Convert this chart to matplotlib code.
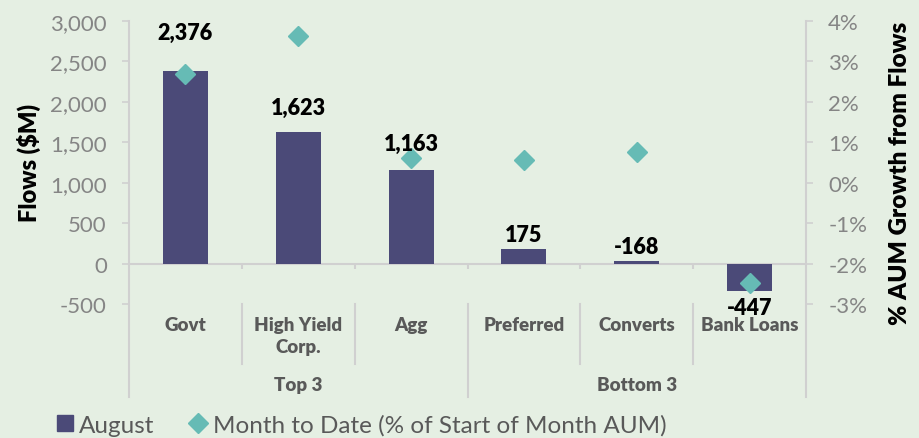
import numpy as np
import matplotlib.pyplot as plt
from matplotlib.lines import Line2D
from matplotlib.ticker import FuncFormatter

IMAGE_WIDTH = 919
IMAGE_HEIGHT = 439

categories = ["Govt", "High Yield\nCorp.", "Agg", "Preferred", "Converts", "Bank Loans"]
groups = ["Top 3", "Bottom 3"]
group_sizes = [3, 3]
august_flows = [2376, 1623, 1163, 175, 30, -340]
flow_labels = ["2,376", "1,623", "1,163", "175", "-168", "-447"]
mtd_growth = [2.70, 3.62, 0.60, 0.55, 0.77, -2.48]

# label offsets from the bar end, in pixels
label_offsets = [39, 25, 26, 15, 15, -16]

BG = "#E5EFE3"
BAR = "#4B4A78"
DIAMOND = "#66BBB5"
GRID = "#D0D0D0"
TICK = "#858585"
CAT = "#595959"

plt.rcParams["font.family"] = ["Lato", "DejaVu Sans"]

fig = plt.figure(figsize=(IMAGE_WIDTH / 100, IMAGE_HEIGHT / 100), dpi=100, facecolor=BG)
ax = fig.add_axes([129 / 919, 1 - 305 / 439, (806 - 129) / 919, 283 / 439])
ax.set_facecolor(BG)
x = np.arange(len(categories))

ax.bar(x, august_flows, width=0.4, color=BAR, zorder=2)
ax.set_xlim(-0.5, len(categories) - 0.5)
ax.set_ylim(-500, 3000)
ax.set_yticks(np.arange(-500, 3001, 500))
ax.yaxis.set_major_formatter(FuncFormatter(lambda v, p: f"{int(v):,}"))
ax.set_xticks([])
for s in ax.spines.values():
    s.set_visible(False)
ax.tick_params(axis="y", colors=GRID, labelcolor=TICK, labelsize=16, length=5, width=1.2, pad=11)
ax.set_ylabel("Flows ($M)", fontsize=17, fontweight="heavy", va="center")
ax.yaxis.set_label_coords(-0.148, 0.5)

# zero line and category boundary ticks
ax.axhline(0, color=GRID, lw=1.5, zorder=1)
ax.vlines(x[:-1] + 0.5, -70, 0, color=GRID, lw=1.5)

ax2 = ax.twinx()
ax2.set_ylim(-3, 4)
ax2.set_yticks(np.arange(-3, 5, 1))
ax2.yaxis.set_major_formatter(FuncFormatter(lambda v, p: f"{int(v)}%"))
for s in ax2.spines.values():
    s.set_visible(False)
ax2.tick_params(axis="y", colors=GRID, labelcolor=TICK, labelsize=16, length=5, width=1.2, pad=11)
ax2.set_ylabel("% AUM Growth from Flows", fontsize=17.5, fontweight="heavy", va="center")
ax2.yaxis.set_label_coords(1.139, 0.466)
ax2.plot(x, mtd_growth, linestyle="none", marker="D", markersize=10, color=DIAMOND, zorder=3)

# data labels
for xi, v, lab, off in zip(x, august_flows, flow_labels, label_offsets):
    ax2.annotate(lab, (xi, v), xycoords=ax.transData, xytext=(0, off * 0.72),
                 textcoords="offset points", ha="center", va="center",
                 fontsize=15.5, fontweight="heavy", color="black", zorder=4)

# axis lines extending below the plot
xt = ax.get_xaxis_transform()
for xe in [-0.5, len(categories) - 0.5]:
    ax.plot([xe, xe], [-0.329, 1], transform=xt, color=GRID, lw=1.5, clip_on=False)

# category labels
for xi, c in zip(x, categories):
    ax.text(xi, -0.042, c, transform=xt, ha="center", va="top", fontsize=13.5,
            fontweight="heavy", color=CAT, linespacing=1.4)

# separators and group labels
start = 0
for g, n in zip(groups, group_sizes):
    for k in range(start, start + n - 1):
        ax.plot([k + 0.5, k + 0.5], [-0.212, 0], transform=xt, color=GRID, lw=1.5, clip_on=False)
    if start > 0:
        ax.plot([start - 0.5, start - 0.5], [-0.329, 0], transform=xt, color=GRID, lw=1.5, clip_on=False)
    ax.text(start + (n - 1) / 2, -0.283, g, transform=xt, ha="center", va="center",
            fontsize=13.5, fontweight="heavy", color=CAT)
    start += n

handles = [
    Line2D([], [], linestyle="none", marker="s", markersize=12, color=BAR),
    Line2D([], [], linestyle="none", marker="D", markersize=10, color=DIAMOND),
]
fig.legend(handles, ["August", "Month to Date (% of Start of Month AUM)"],
           loc="lower left", bbox_to_anchor=(0.036, -0.045), ncol=2, frameon=False,
           fontsize=17.5, labelcolor=CAT, handlelength=0.8, handletextpad=0.2,
           columnspacing=1.4)

fig.savefig("out.png", dpi=100, facecolor=BG)
plt.close(fig)
